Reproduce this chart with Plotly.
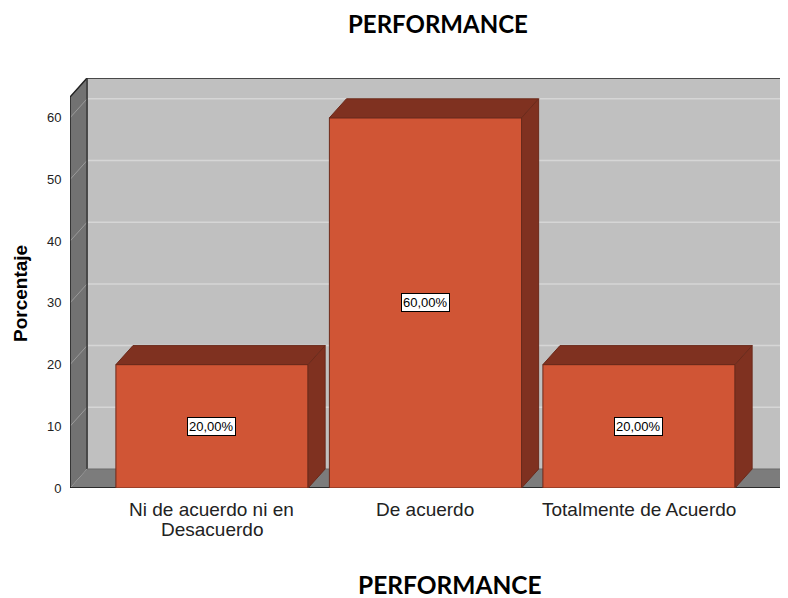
import plotly.graph_objects as go

categories = ["Ni de acuerdo ni en<br>Desacuerdo", "De acuerdo", "Totalmente de Acuerdo"]
values = [20, 60, 20]
y_ticks = [0, 10, 20, 30, 40, 50, 60]
title_text = "PERFORMANCE"
x_title = "PERFORMANCE"
y_title = "Porcentaje"

# styling / geometry
FRONT = "#d05535"
DARK = "#7f3120"
EDGE = "#6b2a1b"
BACK = "#c0c0c0"
WALL = "#727272"
FLOOR = "#7c7c7c"
GRID = "#d6d6d6"
WGRID = "#9a9a9a"
BW = 0.9
X0, X1 = -0.665, 2.698
Y0, Y1 = 0, 66.45
DX, DY = 0.08, 3.08       # depth offset in data units
XF = 2.674                # floor front right end

# page has an 8px body margin; figure is sized/margined to compensate
W, H = 780, 590
ML, MT, MB = 62, 70, 110
PW, PH = W - ML, H - MT - MB

xs = list(range(len(categories)))

fig = go.Figure()
fig.add_trace(go.Bar(x=xs, y=values, width=BW, marker=dict(color=FRONT, line=dict(color=EDGE, width=1)),
                     hoverinfo="skip"))

shapes = []
# back wall
shapes.append(dict(type="rect", xref="x", yref="y", x0=X0 + DX, x1=X1 + 1, y0=DY, y1=Y1,
                   fillcolor=BACK, line=dict(width=0), layer="below"))
# back wall gridlines
for t in y_ticks[1:]:
    shapes.append(dict(type="line", xref="x", yref="y", x0=X0 + DX, x1=X1 + 1, y0=t + DY, y1=t + DY,
                       line=dict(color=GRID, width=1.5), layer="below"))
# floor
shapes.append(dict(type="path", xref="x", yref="y",
                   path=f"M{X0},0 L{X0+DX},{DY} L{X1+1},{DY} L{X1+1},0 Z",
                   fillcolor=FLOOR, line=dict(width=0), layer="below"))
# left wall
top_front = Y1 - DY
shapes.append(dict(type="path", xref="x", yref="y",
                   path=f"M{X0},0 L{X0+DX},{DY} L{X0+DX},{Y1} L{X0},{top_front} Z",
                   fillcolor=WALL, line=dict(width=0), layer="below"))
for t in y_ticks[1:]:
    shapes.append(dict(type="line", xref="x", yref="y", x0=X0, x1=X0 + DX, y0=t, y1=t + DY,
                       line=dict(color=WGRID, width=1), layer="below"))
# edges
shapes.append(dict(type="path", xref="x", yref="y",
                   path=f"M{X0},0 L{X0},{top_front} L{X0+DX},{Y1} L{X1+1},{Y1}",
                   line=dict(color="#222222", width=1.5), layer="below"))
shapes.append(dict(type="line", xref="x", yref="y", x0=X0 + DX, x1=X0 + DX, y0=DY, y1=Y1,
                   line=dict(color="#333333", width=1.5), layer="below"))
shapes.append(dict(type="line", xref="x", yref="y", x0=X0 + DX, x1=X1 + 1, y0=DY, y1=DY,
                   line=dict(color="#6a6a6a", width=1), layer="below"))
shapes.append(dict(type="path", xref="x", yref="y",
                   path=f"M{X0},0 L{XF},0 L{XF+DX},{DY}",
                   line=dict(color="#111111", width=1.5), layer="below"))

# 3D faces of bars
for x, v in zip(xs, values):
    l, r = x - BW / 2, x + BW / 2
    shapes.append(dict(type="path", xref="x", yref="y",
                       path=f"M{l},{v} L{l+DX},{v+DY} L{r+DX},{v+DY} L{r},{v} Z",
                       fillcolor=DARK, line=dict(color=EDGE, width=1), layer="above"))
    shapes.append(dict(type="path", xref="x", yref="y",
                       path=f"M{r},0 L{r+DX},{DY} L{r+DX},{v+DY} L{r},{v} Z",
                       fillcolor=DARK, line=dict(color=EDGE, width=1), layer="above"))

annotations = []
for x, v in zip(xs, values):
    annotations.append(dict(x=x, y=v / 2, xref="x", yref="y", showarrow=False,
                            text=f"{v:.2f}%".replace(".", ","),
                            font=dict(family="Arial, Liberation Sans", size=13, color="#000000"),
                            bgcolor="white", bordercolor="#000000", borderwidth=1, borderpad=1))


# page coordinates -> paper coordinates
def px(xp):
    return (xp - 8 - ML) / PW


def py(yp):
    return (MT + PH - (yp - 8)) / PH


# category labels (one annotation per line for tight SPSS-like line spacing)
for x, lab in zip(xs, categories):
    for i, line in enumerate(lab.split("<br>")):
        annotations.append(dict(x=x, y=py(509 + 20 * i), xref="x", yref="paper", showarrow=False,
                                text=line, yanchor="middle", borderpad=0,
                                font=dict(family="Arial, Liberation Sans", size=19, color="#222222")))

# chart title, anchored to the top edge of the figure
annotations.append(dict(x=px(438), y=py(8), xref="paper", yref="paper",
                        showarrow=False, text=f"<b>{title_text}</b>", yanchor="top", borderpad=0,
                        font=dict(family="Lato, Carlito, Calibri", size=24, color="#000000")))
annotations.append(dict(x=px(450), y=py(584.5), xref="paper", yref="paper",
                        showarrow=False, text=f"<b>{x_title}</b>", yanchor="middle", borderpad=0,
                        font=dict(family="Lato, Carlito, Calibri", size=24.5, color="#000000")))
annotations.append(dict(x=px(20), y=py(294), xref="paper", yref="paper",
                        showarrow=False, text=f"<b>{y_title}</b>", textangle=-90,
                        xanchor="center", yanchor="middle",
                        font=dict(family="Arial, Liberation Sans", size=19, color="#000000")))

fig.update_layout(
    width=W, height=H,
    margin=dict(l=ML, r=0, t=MT, b=MB),
    paper_bgcolor="white", plot_bgcolor="white",
    showlegend=False,
    xaxis=dict(range=[X0, X1], tickvals=xs, ticktext=categories, showticklabels=False,
               showgrid=False, zeroline=False, showline=False, ticks=""),
    yaxis=dict(range=[Y0, Y1], tickvals=y_ticks, showgrid=False, zeroline=False, showline=False,
               ticks="outside", ticklen=5, tickcolor="rgba(0,0,0,0)",
               tickfont=dict(family="Arial, Liberation Sans", size=13, color="#222222")),
    shapes=shapes, annotations=annotations,
)

fig.write_html("out.html")
